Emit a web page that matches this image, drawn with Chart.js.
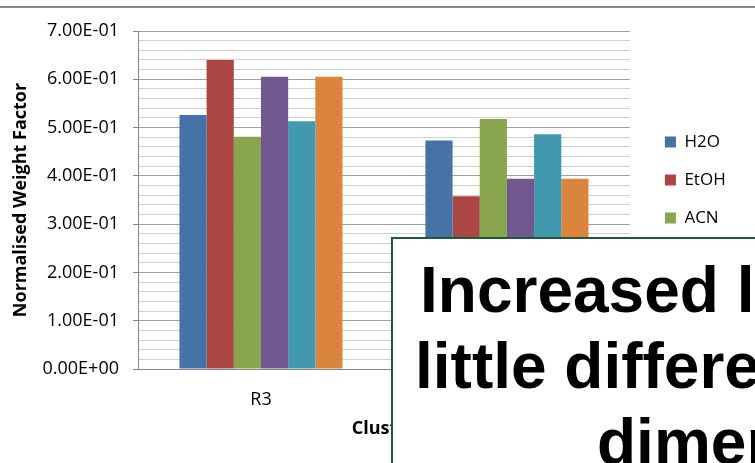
<!DOCTYPE html>
<html>
<head>
<meta charset="utf-8">
<script src="https://cdn.jsdelivr.net/npm/chart.js@4.4.1/dist/chart.umd.min.js"></script>
<style>
  html, body { margin: 0; padding: 0; background: #fff; overflow: hidden; }
  #wrap { position: relative; width: 755px; height: 463px; overflow: hidden; }
  #chartBox { position: absolute; left: 0; top: 0; width: 755px; height: 463px; }
  #topRule { position: absolute; left: 0; top: 6px; width: 755px; height: 2px; background: #8a8a8a; }
  #note { position: absolute; left: 391px; top: 237px; width: 600px; height: 400px; box-sizing: border-box;
          border: 2px solid #1f5a37; background: #fff; }
  .noteLine { position: absolute; white-space: nowrap; color: #000;
              font: bold 64px "Liberation Sans", Arial, sans-serif; line-height: 76px; }
</style>
</head>
<body>
<div id="wrap">
  <div id="chartBox"><canvas id="chart"></canvas></div>
  <div id="topRule"></div>
  <div id="note"></div>
  <div class="noteLine" style="left:420px; top:252px;">Increased ligand size</div>
  <div class="noteLine" style="left:415px; top:328px;">little difference in</div>
  <div class="noteLine" style="left:597px; top:404px;">dimer formation</div>
</div>
<script>
// values
var categories = ['R3', 'R4'];
var seriesNames = ['H2O', 'EtOH', 'ACN', 'MeOH', 'DMF', 'DMSO'];
var h2o  = [0.526, 0.473];
var etoh = [0.640, 0.358];
var acn  = [0.481, 0.518];
var meoh = [0.605, 0.394];
var dmf  = [0.513, 0.486];
var dmso = [0.605, 0.394];
var yTickLabels = ['0.00E+00', '1.00E-01', '2.00E-01', '3.00E-01', '4.00E-01', '5.00E-01', '6.00E-01', '7.00E-01'];

var seriesColors = ['#4572A7', '#AA4643', '#89A54E', '#71588F', '#4198AF', '#DB843D'];
var seriesValues = [h2o, etoh, acn, meoh, dmf, dmso];

function isMajor(v) {
  return Math.round(v * 50) % 5 === 0;
}

// nudge the legend away from the plot, like the Excel layout
var legendNudge = {
  id: 'legendNudge',
  afterLayout: function (chart) {
    var lg = chart.legend;
    lg.left += 14; lg.right += 14;
    lg.top -= 10; lg.bottom -= 10;
  }
};

var tickFont = { family: 'Open Sans', size: 18 };
var titleFont = { family: 'Open Sans', size: 18, weight: 'bold' };

new Chart(document.getElementById('chart').getContext('2d'), {
  type: 'bar',
  data: {
    labels: categories,
    datasets: seriesNames.map(function (name, i) {
      return {
        label: name,
        data: seriesValues[i],
        backgroundColor: seriesColors[i],
        borderWidth: 0,
        categoryPercentage: 0.663,
        barPercentage: 1
      };
    })
  },
  plugins: [legendNudge],
  options: {
    responsive: true,
    maintainAspectRatio: false,
    animation: false,
    devicePixelRatio: 1,
    layout: { padding: { top: 31, right: 24, bottom: 0, left: 0 } },
    plugins: {
      legend: {
        position: 'right',
        labels: {
          boxWidth: 11,
          boxHeight: 11,
          padding: 21,
          color: '#000',
          font: { family: 'Open Sans', size: 17 }
        }
      },
      tooltip: { enabled: false }
    },
    scales: {
      x: {
        grid: { display: false, drawTicks: false },
        border: { color: '#868686' },
        ticks: { color: '#000', padding: 20, font: tickFont },
        title: { display: true, text: 'Cluster', color: '#000', font: titleFont, padding: { top: 0, bottom: 23 } },
        afterFit: function (s) { s.height = 94; }
      },
      y: {
        min: 0,
        max: 0.7,
        border: { color: '#868686' },
        grid: {
          tickLength: 5,
          color: function (c) { return isMajor(c.tick.value) ? '#a0a0a0' : '#d0d0d0'; },
          tickColor: function (c) { return isMajor(c.tick.value) ? '#868686' : 'rgba(0,0,0,0)'; }
        },
        ticks: {
          stepSize: 0.02,
          autoSkip: false,
          padding: 14,
          color: '#000',
          font: tickFont,
          callback: function (v) {
            var k = Math.round(v * 50);
            return k % 5 === 0 ? yTickLabels[k / 5] : '';
          }
        },
        title: { display: true, text: 'Normalised Weight Factor', color: '#000', font: titleFont, padding: { top: 10, bottom: 0 } },
        afterFit: function (s) { s.width = 138; }
      }
    }
  }
});
</script>
</body>
</html>
